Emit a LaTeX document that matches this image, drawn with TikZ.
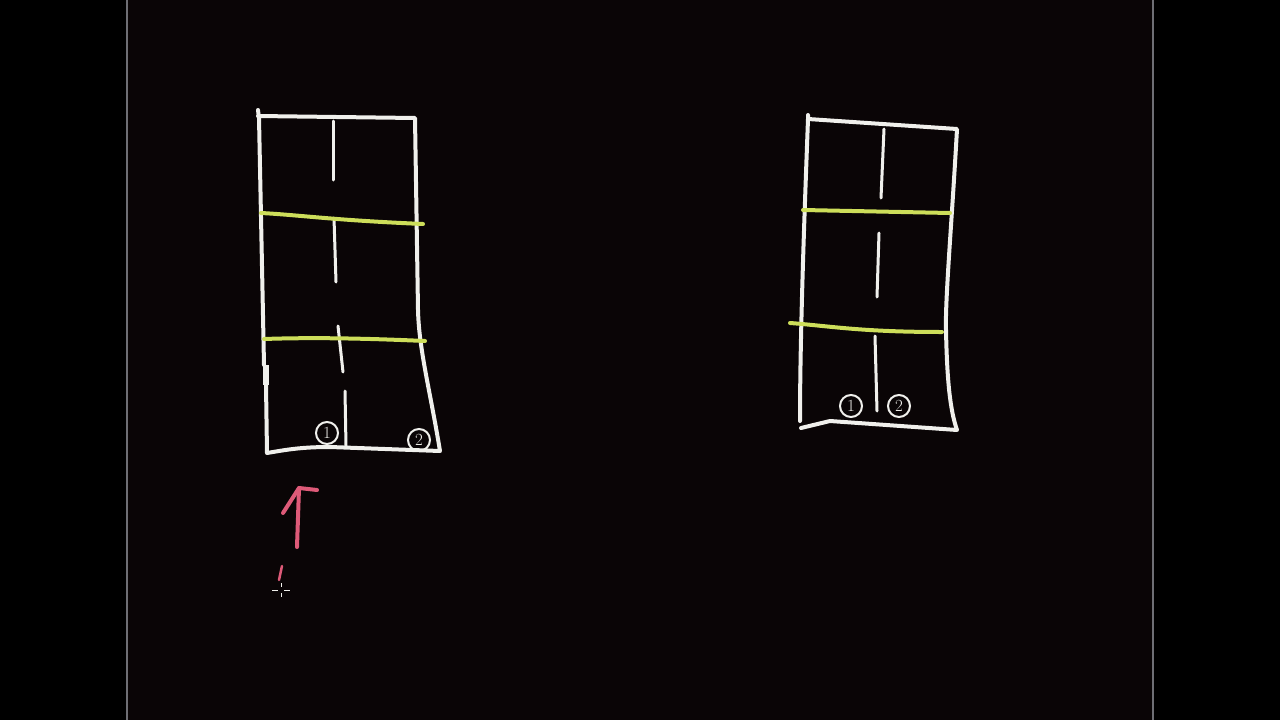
\documentclass[tikz,border=0pt]{standalone}
\usepackage{tikz}
\usetikzlibrary{shapes}
\definecolor{board_bg}{RGB}{10, 5, 6}
\definecolor{chalk}{RGB}{240, 240, 236}
\definecolor{hl_yellow}{RGB}{205, 222, 90}
\definecolor{pen_red}{RGB}{222, 90, 120}
\definecolor{edge_grey}{RGB}{110, 110, 116}
\tikzstyle{wall}=[draw=chalk,line width=4pt,line cap=round,line join=round]
\tikzstyle{split}=[draw=chalk,line width=3pt,line cap=round]
\tikzstyle{floorline}=[draw=hl_yellow,line width=4pt,line cap=round]
\tikzstyle{tag}=[circle,draw=chalk,line width=2pt,text=chalk,inner sep=1pt,
  minimum width=22pt,font=\fontsize{17}{19}\selectfont]
\tikzstyle{pen}=[draw=pen_red,line width=4pt,line cap=round,line join=round]

\begin{document}
\begin{tikzpicture}[x=1pt,y=-1pt]
    \fill[black] (0,0) rectangle (1280,720);
    \useasboundingbox (0,0) rectangle (1280,720);
    \fill[board_bg] (127,0) rectangle (1153,720);
    \draw[edge_grey,line width=2pt] (127,0) -- (127,720);
    \draw[edge_grey,line width=2pt] (1153,0) -- (1153,720);
    % left box
    \draw[wall] (258,110) -- (259,118) -- (264,365);
    \draw[chalk,line width=6pt] (266,365) -- (266,385);
    \draw[wall] (266,385) -- (267,453) .. controls (285,450) and (300,447) .. (330,447)
      -- (440,451) .. controls (430,390) and (419,350) .. (418,310) -- (415,118) -- (258,116);
    \draw[split] (333,121) -- (333,180);
    \draw[split] (334,218) -- (336,282);
    \draw[split] (338,326) -- (343,372);
    \draw[split] (345,391) -- (346,446);
    \draw[floorline] (261,213) .. controls (300,215) and (330,220) .. (423,224);
    \draw[floorline] (264,339) .. controls (320,337) and (380,339) .. (425,341);
    \node[tag] (lone) at (327,433) {1};
    \node[tag] (ltwo) at (419,440) {2};
    % arrow
    \coordinate (tail) at (297,547);
    \coordinate (tip) at (299,488);
    \draw[pen] (tail) -- (tip);
    \draw[pen] (283,513) -- (tip) -- (317,490);
    \draw[pen,line width=2.5pt] (282,566) -- (279,580);
    \draw[chalk,line width=1pt] (272,590) -- (278,590) (284,590) -- (290,590)
      (281,583) -- (281,587) (281,593) -- (281,597);
    % right box
    \draw[wall] (808,115) -- (808,119) .. controls (805,200) and (800,330) .. (800,421);
    \draw[wall] (808,119) -- (957,129) .. controls (952,220) and (945,300) .. (946,330)
      .. controls (947,380) and (950,410) .. (957,430) -- (830,421) -- (801,428);
    \draw[split] (884,129) -- (881,198);
    \draw[split] (879,233) -- (877,297);
    \draw[split] (875,336) -- (877,411);
    \draw[floorline] (803,210) -- (950,213);
    \draw[floorline] (790,323) .. controls (830,326) and (860,332) .. (942,332);
    \node[tag] (rone) at (851,406) {1};
    \node[tag] (rtwo) at (899,406) {2};
\end{tikzpicture}
\end{document}
